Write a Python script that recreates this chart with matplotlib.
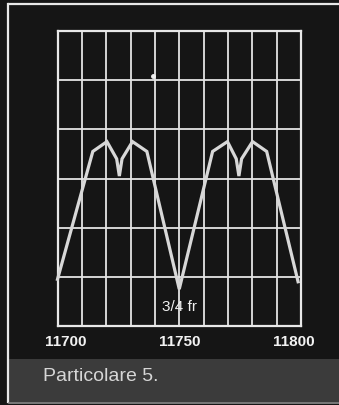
import matplotlib
matplotlib.use("Agg")
import matplotlib.pyplot as plt
from matplotlib import font_manager
from matplotlib.patches import Rectangle
from matplotlib.lines import Line2D

# frequency sweep (MHz) and trace level (grid divisions)
freq = [11700, 11714.5, 11720.3, 11724.3, 11725.4, 11726.5, 11730.8, 11736.7,
        11750, 11763.7, 11769.8, 11773.4, 11774.5, 11775.6, 11780.1, 11785.9, 11798.8]
level = [0.95, 3.55, 3.75, 3.4, 3.05, 3.4, 3.75, 3.55,
         0.75, 3.55, 3.75, 3.4, 3.05, 3.4, 3.75, 3.55, 0.9]
tick_vals = [11700, 11750, 11800]
tick_labels = ['11700', '11750', '11800']
marker_text = '3/4 fr'
marker_freq = 11750
caption = 'Particolare 5.'
speck = (11739.2, 5.09)

names = {f.name for f in font_manager.fontManager.ttflist}
fam = 'Liberation Sans Narrow' if 'Liberation Sans Narrow' in names else 'Liberation Sans'

bg = '#151515'
fig = plt.figure(figsize=(3.39, 4.06), dpi=100, facecolor=bg)
W, H = 339, 406

# caption band and frame
fig.patches.append(Rectangle((9 / W, 3 / H), 330 / W, 43 / H, transform=fig.transFigure,
                             facecolor='#3b3b3b', edgecolor='none'))
fig.lines.append(Line2D([9 / W, 1], [401 / H, 401 / H], transform=fig.transFigure,
                        color='#e8e8e8', lw=1.6))
fig.lines.append(Line2D([8 / W, 8 / W], [401 / H, 3 / H], transform=fig.transFigure,
                        color='#e8e8e8', lw=1.6))
fig.lines.append(Line2D([9 / W, 1], [2 / H, 2 / H], transform=fig.transFigure,
                        color='#8a8a8a', lw=1.2))
fig.text(43 / W, 1 - 377 / H, caption, color='#d6d6d6', fontsize=14,
         family=fam, va='center', ha='left')

ax = fig.add_axes([57.5 / W, 79 / H, 243.5 / W, 295 / H])
ax.set_facecolor(bg)
ax.set_xlim(11700, 11800)
ax.set_ylim(0, 6)
ax.set_xticks(range(11700, 11801, 10))
ax.set_yticks(range(0, 7))
ax.grid(True, color='#e4e4e4', lw=1.3)
ax.tick_params(length=0, labelbottom=False, labelleft=False)
for s in ax.spines.values():
    s.set_color('#e8e8e8')
    s.set_linewidth(1.6)

ax.plot(freq, level, color='#d8d8d8', lw=2.3, solid_joinstyle='miter', clip_on=False, zorder=3)
ax.plot(*speck, 'o', color='#f0f0f0', ms=2.5, zorder=3)

ax.text(marker_freq, 0.4, marker_text, color='#f0f0f0', fontsize=11, family=fam,
        ha='center', va='center')

offsets = [6, 0, -5]
for v, lab, dx in zip(tick_vals, tick_labels, offsets):
    ax.annotate(lab, (v, 0), xytext=(dx, -11), textcoords='offset points',
                color='#f2f2f2', fontsize=11, family=fam, weight='bold',
                ha='center', va='center', annotation_clip=False)

fig.savefig('out.png', dpi=100, facecolor=bg)
